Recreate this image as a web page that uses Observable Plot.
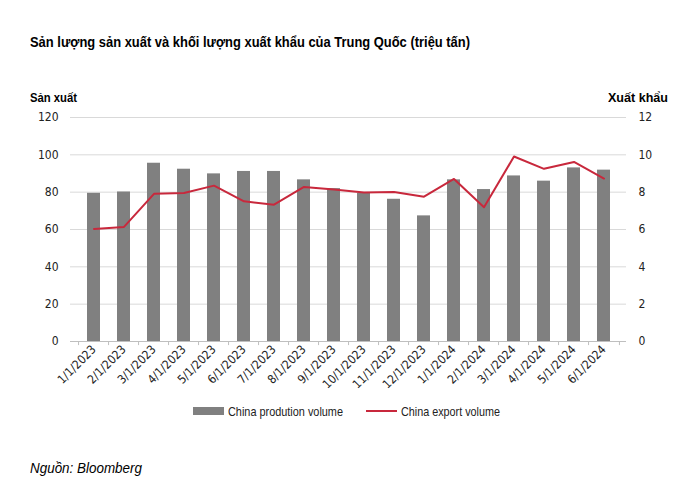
<!DOCTYPE html>
<html><head><meta charset="utf-8">
<script src="https://cdn.jsdelivr.net/npm/d3@7"></script>
<script src="https://cdn.jsdelivr.net/npm/@observablehq/plot@0.6"></script>
<style>
body{margin:0;background:#fff;}
#wrap{position:relative;width:699px;height:486px;font-family:"Liberation Sans",Arial,sans-serif;color:#000;}
.abs{position:absolute;white-space:nowrap;}
.fit{display:inline-block;white-space:nowrap;transform-origin:0 50%;}
#title{left:30px;top:33px;font-size:15px;font-weight:bold;}
#ylab{left:30px;top:90px;font-size:13px;font-weight:bold;}
#y2lab{left:608px;top:90px;font-size:13px;font-weight:bold;}
#src{left:30px;top:459px;font-size:15px;font-style:italic;}
#chart{position:absolute;left:0;top:0;}
.lg{position:absolute;top:404px;font-size:13px;color:#222;}
</style></head>
<body><div id="wrap">
<div id="chart"></div>
<div class="abs" id="title"><span class="fit" data-w="440">Sản lượng sản xuất và khối lượng xuất khẩu của Trung Quốc (triệu tấn)</span></div>
<div class="abs" id="ylab"><span class="fit" data-w="47">Sản xuất</span></div>
<div class="abs" id="y2lab"><span class="fit" data-w="60">Xuất khẩu</span></div>
<div class="abs" style="left:193px;top:407px;width:31px;height:8px;background:#808080"></div>
<div class="abs lg" style="left:228px"><span class="fit" data-w="115">China prodution volume</span></div>
<div class="abs" style="left:366px;top:410px;width:31px;height:2px;background:#c8283c"></div>
<div class="abs lg" style="left:401px"><span class="fit" data-w="99">China export volume</span></div>
<div class="abs" id="src"><span class="fit" data-w="112">Nguồn: Bloomberg</span></div>
</div>
<script>
const months = ["1/1/2023","2/1/2023","3/1/2023","4/1/2023","5/1/2023","6/1/2023","7/1/2023","8/1/2023","9/1/2023","10/1/2023","11/1/2023","12/1/2023","1/1/2024","2/1/2024","3/1/2024","4/1/2024","5/1/2024","6/1/2024"];
const production = [79.4,80.1,95.5,92.3,89.8,91.1,91.1,86.6,81.9,79.4,76.2,67.3,86.6,81.4,88.7,85.9,93.0,91.8];
const exportVol = [6.03,6.14,7.91,7.96,8.35,7.51,7.33,8.28,8.14,7.98,8.01,7.76,8.71,7.19,9.91,9.25,9.62,8.73];
const leftTicks = [0,20,40,60,80,100,120];
const rightTicks = [0,2,4,6,8,10,12];

const data = months.map((m,i)=>({m, p: production[i], e: exportVol[i]}));
const W = 699, H = 400, mL = 70, mR = 73;
const step = (W - mL - mR) / months.length;
const font = '"DejaVu Sans Condensed","Liberation Sans",sans-serif';

const chart = Plot.plot({
  width: W, height: H,
  marginTop: 117, marginBottom: 59, marginLeft: mL, marginRight: mR,
  style: {fontFamily: font, fontSize: "12px", color: "#222", background: "transparent"},
  x: {domain: months, paddingInner: 0.57, paddingOuter: 0.285, label: null},
  y: {domain: [0,120], label: null},
  marks: [
    Plot.gridY(leftTicks, {stroke: "#d9d9d9", strokeOpacity: 1}),
    Plot.barY(data, {x: "m", y: "p", fill: "#808080"}),
    Plot.ruleY([0], {stroke: "#bfbfbf"}),
    Plot.ruleX(months, {x: d=>d, y1: 0, y2: -2.2, dx: -step/2, stroke: "#bfbfbf"}),
    Plot.ruleX([months[months.length-1]], {x: d=>d, y1: 0, y2: -2.2, dx: step/2, stroke: "#bfbfbf"}),
    Plot.lineY(data, {x: "m", y: d=>d.e*10, stroke: "#c8283c", strokeWidth: 2}),
    Plot.axisY({ticks: leftTicks, anchor: "left", tickSize: 0, tickPadding: 12, label: null}),
    Plot.axisY({ticks: rightTicks.map(t=>t*10), anchor: "right", tickSize: 0, tickPadding: 12, textAnchor: "start", tickFormat: d=>String(d/10), label: null}),
    Plot.axisX({tickRotate: -45, tickSize: 0, tickPadding: 6, label: null})
  ]
});
document.getElementById("chart").appendChild(chart);
document.querySelectorAll(".fit").forEach(el=>{
  const w = el.getBoundingClientRect().width;
  const target = +el.dataset.w;
  if (w > 0) el.style.transform = `scaleX(${target/w})`;
});
</script>
</body></html>
